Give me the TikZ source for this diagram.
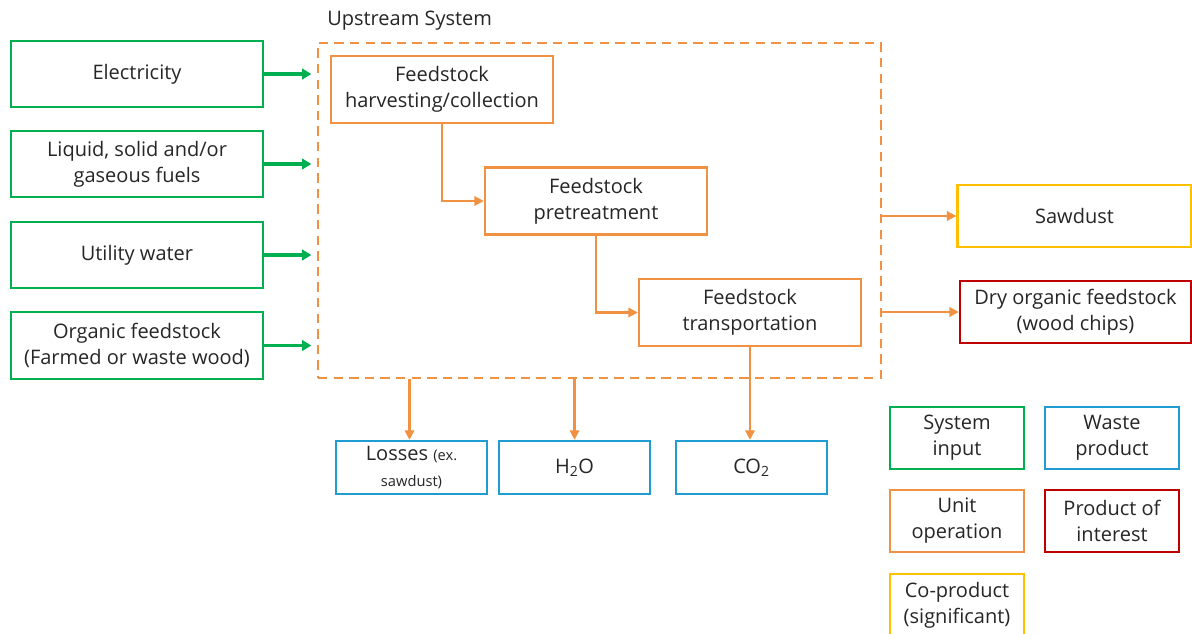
\documentclass[tikz,border=0pt]{standalone}
\usepackage{fontspec}
\setmainfont{Open Sans}
\usetikzlibrary{arrows.meta,calc}
\definecolor{cgreen}{RGB}{0,176,80}
\definecolor{corange}{RGB}{240,146,66}
\definecolor{cblue}{RGB}{31,157,210}
\definecolor{cred}{RGB}{192,0,0}
\definecolor{cyellow}{RGB}{255,192,0}
\definecolor{ctext}{RGB}{38,38,38}
\begin{document}
\begin{tikzpicture}[x=0.75pt,y=-0.75pt,
  every node/.style={font=\fontsize{15}{19.5}\selectfont, text=ctext, align=center, inner sep=0pt},
  box/.style={draw, line width=1.8pt, fill=white, rectangle},
  inbox/.style={box, draw=cgreen, minimum width=189pt, minimum height=49.5pt},
  opbox/.style={box, draw=corange, minimum width=166.5pt, minimum height=50.5pt},
  wbox/.style={box, draw=cblue, minimum width=113.25pt, minimum height=39.75pt},
  legbox/.style={box, minimum width=100.5pt, minimum height=46.5pt},
  garrow/.style={draw=cgreen, line width=2.4pt, -{Triangle[length=7pt,width=8pt]}},
  oarrow/.style={draw=corange, line width=1.6pt, -{Triangle[length=7pt,width=7pt]}}
]
\useasboundingbox (0,0) rectangle (1192,633);
% upstream dashed system
\node[draw=corange, line width=2pt, dash pattern=on 7pt off 4.7pt, minimum width=422.25pt, minimum height=251.25pt] (up) at (599.5,210.5) {};
\node[anchor=west] (uplbl) at (327,21) {Upstream System};
% inputs
\node[inbox] (elec) at (137,74) {Electricity};
\node[inbox] (fuel) at (137,164) {Liquid, solid and/or\\gaseous fuels};
\node[inbox] (water) at (137,255) {Utility water};
\node[inbox, minimum height=50.25pt] (org) at (137,345.5) {Organic feedstock\\(Farmed or waste wood)};
% unit operations
\node[opbox] (harv) at (442,89.5) {Feedstock\\harvesting/collection};
\node[opbox] (pre) at (596,201) {Feedstock\\pretreatment};
\node[opbox] (trans) at (750,312.5) {Feedstock\\transportation};
% products
\node[box, draw=cyellow, minimum width=175.5pt, minimum height=46.5pt] (saw) at (1074.5,216) {Sawdust};
\node[box, draw=cred, minimum width=173.25pt, minimum height=46.5pt] (dry) at (1075.5,312) {Dry organic feedstock\\(wood chips)};
% wastes
\node[wbox] (loss) at (411.5,467.5) {Losses {\fontsize{11}{14}\selectfont(ex.}\\{\fontsize{11}{14}\selectfont sawdust)}};
\node[wbox] (h2o) at (574.5,467.5) {H\textsubscript{2}O};
\node[wbox] (co2) at (751.5,467.5) {CO\textsubscript{2}};
% legend
\node[legbox, draw=cgreen] (lin) at (957,438) {System\\input};
\node[legbox, draw=cblue] (lwaste) at (1112,438) {Waste\\product};
\node[legbox, draw=corange] (lop) at (957,521) {Unit\\operation};
\node[legbox, draw=cred] (lprod) at (1112,521) {Product of\\interest};
\node[legbox, draw=cyellow] (lco) at (957,605) {Co-product\\(significant)};
% input arrows
\foreach \n in {elec,fuel,water,org}
  \draw[garrow, shorten >=4pt] (\n.east) -- (\n.east -| up.west);
% internal flow
\draw[oarrow] (harv.south) |- (pre.west);
\draw[oarrow] (pre.south) |- (trans.west);
\draw[oarrow] (trans.south) -- (trans.south |- co2.north);
% outputs
\draw[oarrow] (up.east |- saw.west) -- (saw.west);
\draw[oarrow] (up.east |- dry.west) -- (dry.west);
\draw[oarrow] ([xshift=-1.5pt]loss.north |- up.south) -- ([xshift=-1.5pt]loss.north);
\draw[oarrow] (h2o.north |- up.south) -- (h2o.north);
\end{tikzpicture}
\end{document}
